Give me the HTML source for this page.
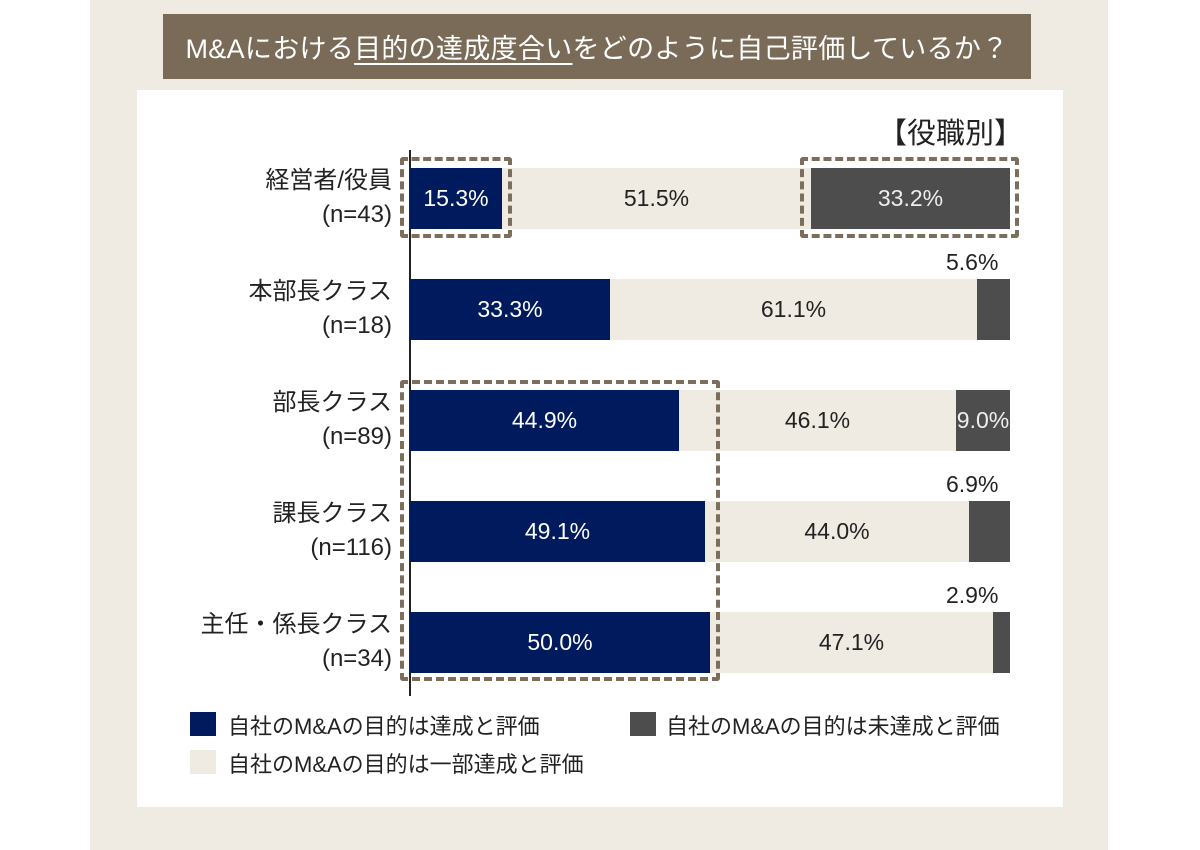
<!DOCTYPE html>
<html><head><meta charset="utf-8"><style>
body{margin:0;width:1200px;height:850px;background:#fff;position:relative;overflow:hidden;font-family:"Liberation Sans","Noto Sans CJK JP",sans-serif;}
div{position:absolute;box-sizing:border-box}
.seg{top:0;height:61px;display:flex;align-items:center;justify-content:center;font-size:23px;white-space:nowrap}
.n{background:#001a5e;color:#fff}.b{background:#efebe3;color:#222}.g{background:#4d4d4d;color:#eee}
.lab{right:808px;text-align:right;font-size:24px;line-height:34px;color:#222;white-space:nowrap}
.out{font-size:23px;color:#222}
.dash{border:4px dashed #7d6e5b;border-radius:3px}
.leg{font-size:22px;color:#222;white-space:nowrap}
</style></head><body>
<div style="left:90px;top:0;width:1018px;height:850px;background:#efebe3"></div>
<div style="left:163px;top:14px;width:868px;height:65px;background:#7a6b58;color:#fff;font-size:27px;display:flex;align-items:center;justify-content:center;letter-spacing:0.3px">M&amp;Aにおける<span style="text-decoration:underline;text-underline-offset:5px">目的の達成度合い</span>をどのように自己評価しているか？</div>
<div style="left:137px;top:90px;width:926px;height:717px;background:#fff"></div>
<div style="left:878px;top:110px;font-size:29px;color:#222">【役職別】</div>
<div style="left:409px;top:150px;width:1.5px;height:546px;background:#222"></div>

<div style="left:410px;top:168px;width:600px;height:61px">
<div class="seg n" style="left:0;width:92px">15.3%</div><div class="seg b" style="left:92px;width:309px">51.5%</div><div class="seg g" style="left:401px;width:199px">33.2%</div></div>
<div class="lab" style="top:164px">経営者/役員<br>(n=43)</div>

<div style="left:410px;top:279px;width:600px;height:61px">
<div class="seg n" style="left:0;width:200px">33.3%</div><div class="seg b" style="left:200px;width:367px">61.1%</div><div class="seg g" style="left:567px;width:33px"></div></div>
<div class="out" style="left:946px;top:249px">5.6%</div>
<div class="lab" style="top:275px">本部長クラス<br>(n=18)</div>

<div style="left:410px;top:390px;width:600px;height:61px">
<div class="seg n" style="left:0;width:269px">44.9%</div><div class="seg b" style="left:269px;width:277px">46.1%</div><div class="seg g" style="left:546px;width:54px">9.0%</div></div>
<div class="lab" style="top:386px">部長クラス<br>(n=89)</div>

<div style="left:410px;top:501px;width:600px;height:61px">
<div class="seg n" style="left:0;width:295px">49.1%</div><div class="seg b" style="left:295px;width:264px">44.0%</div><div class="seg g" style="left:559px;width:41px"></div></div>
<div class="out" style="left:946px;top:471px">6.9%</div>
<div class="lab" style="top:497px">課長クラス<br>(n=116)</div>

<div style="left:410px;top:612px;width:600px;height:61px">
<div class="seg n" style="left:0;width:300px">50.0%</div><div class="seg b" style="left:300px;width:283px">47.1%</div><div class="seg g" style="left:583px;width:17px"></div></div>
<div class="out" style="left:946px;top:582px">2.9%</div>
<div class="lab" style="top:608px">主任・係長クラス<br>(n=34)</div>

<div class="dash" style="left:400px;top:157px;width:112px;height:81px"></div>
<div class="dash" style="left:800px;top:157px;width:219px;height:81px"></div>
<div class="dash" style="left:400px;top:380px;width:320px;height:301px"></div>

<div style="left:190px;top:712px;width:26px;height:24px;background:#001a5e"></div>
<div class="leg" style="left:228px;top:709px">自社のM&amp;Aの目的は達成と評価</div>
<div style="left:630px;top:712px;width:26px;height:24px;background:#4d4d4d"></div>
<div class="leg" style="left:666px;top:709px">自社のM&amp;Aの目的は未達成と評価</div>
<div style="left:190px;top:750px;width:26px;height:24px;background:#efebe3"></div>
<div class="leg" style="left:228px;top:747px">自社のM&amp;Aの目的は一部達成と評価</div>
</body></html>
